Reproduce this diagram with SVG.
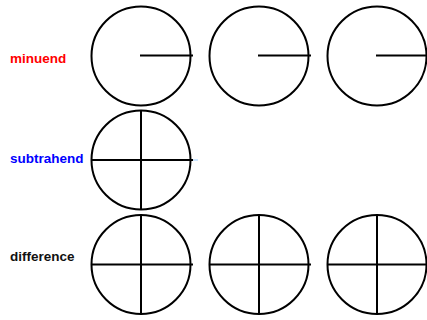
<svg xmlns="http://www.w3.org/2000/svg" width="427" height="320" viewBox="0 0 427 320">
<style>
.c{fill:none;stroke:#000;stroke-width:2}
.l{stroke:#000;stroke-width:2}
.t{font-family:"Liberation Sans",Arial,sans-serif;font-weight:bold;font-size:13.5px}
</style>
<rect width="427" height="320" fill="#fff"/>
<text class="t" x="10" y="63" fill="#ff0000">minuend</text>
<text class="t" x="10" y="162.5" fill="#0000ff">subtrahend</text>
<text class="t" x="10" y="261" fill="#111">difference</text>
<g id="m1"><circle class="c" cx="141" cy="56" r="49.5"/><line class="l" x1="140" y1="55.5" x2="193" y2="55.5"/></g>
<g id="m2"><circle class="c" cx="259" cy="56" r="49.5"/><line class="l" x1="258" y1="55.5" x2="311" y2="55.5"/></g>
<g id="m3"><circle class="c" cx="377" cy="56" r="49.5"/><line class="l" x1="376" y1="55.5" x2="427" y2="55.5"/></g>
<g id="s1"><circle class="c" cx="141" cy="160" r="49.5"/><line class="l" x1="141" y1="110" x2="141" y2="210"/><line class="l" x1="91" y1="160" x2="193" y2="160"/><line x1="193" y1="160" x2="198" y2="160" stroke="#9cf" stroke-width="1"/></g>
<g id="d1"><circle class="c" cx="141" cy="264.5" r="49.5"/><line class="l" x1="141" y1="215" x2="141" y2="314"/><line class="l" x1="91" y1="264.5" x2="193" y2="264.5"/></g>
<g id="d2"><circle class="c" cx="259" cy="264.5" r="49.5"/><line class="l" x1="259" y1="215" x2="259" y2="314"/><line class="l" x1="209" y1="264.5" x2="311" y2="264.5"/></g>
<g id="d3"><circle class="c" cx="377" cy="264.5" r="49.5"/><line class="l" x1="377" y1="215" x2="377" y2="314"/><line class="l" x1="327" y1="264.5" x2="427" y2="264.5"/></g>
</svg>
